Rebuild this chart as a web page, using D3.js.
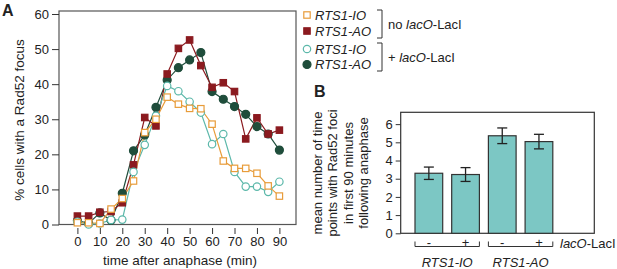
<!DOCTYPE html>
<html>
<head>
<meta charset="utf-8">
<script src="https://cdn.jsdelivr.net/npm/d3@7"></script>
<style>
  body { margin: 0; background: #fff; }
  svg { font-family: "Liberation Sans", Arial, sans-serif; }
  .axis text { font-size: 12px; fill: #222; }
  .axis line, .axis path { stroke: #333; }
</style>
</head>
<body>
<svg id="fig" width="617" height="269"></svg>
<script>
// ---- data (panel A) ----
let times = [0, 5, 10, 15, 20, 25, 30, 35, 40, 45, 50, 55, 60, 65, 70, 75, 80, 85, 90];
let io_noLac = [0.5, 0.5, 0.3, 4.4, 7.4, 12.4, 26.2, 30.0, 36.3, 34.3, 33.1, 33.0, 28.6, 18.1, 16.0, 16.0, 14.6, 11.0, 8.1];
let ao_noLac = [2.4, 2.4, 3.5, 3.7, 6.2, 17.0, 30.5, 28.1, 42.9, 50.2, 52.6, 45.3, 39.1, 40.4, 37.9, 24.4, 30.4, 25.8, 26.9];
let io_lac   = [0.8, 0.0, 0.3, 1.3, 1.4, 15.0, 22.7, 31.0, 39.5, 38.0, 35.0, 31.9, 22.9, 25.8, 15.0, 10.8, 10.8, 9.3, 12.2];
let ao_lac   = [1.1, 0.3, 3.3, 1.2, 8.9, 21.0, 25.5, 33.4, 41.2, 44.7, 46.9, 49.0, 37.9, 35.7, 33.6, 31.4, 27.9, 25.8, 21.2];
let yTicksA = [0, 10, 20, 30, 40, 50, 60];
let xTicksA = [0, 10, 20, 30, 40, 50, 60, 70, 80, 90];

// ---- data (panel B) ----
let barKeys = ["IO-", "IO+", "AO-", "AO+"];
let barSigns = ["-", "+", "-", "+"];
let barMeans = [3.30, 3.23, 5.36, 5.04];
let barErr = [0.34, 0.38, 0.43, 0.40];
let groups = ["RTS1-IO", "RTS1-AO"];
let yTicksB = [0, 1, 2, 3, 4, 5, 6];

let svg = d3.select("#fig");

// ================= Panel A =================
let x = d3.scaleLinear().domain([-8.2, 97.4]).range([59, 296]);
let y = d3.scaleLinear().domain([0, 60]).range([224.5, 14]);

// frame
svg.append("rect")
  .attr("x", 59).attr("y", 11)
  .attr("width", 296 - 59).attr("height", 224.5 - 11)
  .attr("fill", "none").attr("stroke", "#555").attr("stroke-width", 1.2);

let yAxisA = svg.append("g").attr("class", "axis")
  .attr("transform", "translate(59,0)")
  .call(d3.axisLeft(y).tickValues(yTicksA).tickSize(7).tickPadding(3));
yAxisA.select(".domain").remove();
yAxisA.selectAll("text").style("font-size", "13px");

let xAxisA = svg.append("g").attr("class", "axis")
  .attr("transform", "translate(0,228)")
  .call(d3.axisBottom(x).tickValues(xTicksA).tickSize(6).tickPadding(3));
xAxisA.select(".domain").remove();
xAxisA.selectAll("text").style("font-size", "13px");

svg.append("text")
  .text("time after anaphase (min)")
  .attr("x", 180).attr("y", 265)
  .attr("text-anchor", "middle")
  .style("font-size", "13.5px").attr("fill", "#222");

svg.append("text")
  .text("% cells with a Rad52 focus")
  .attr("transform", "translate(24,120) rotate(-90)")
  .attr("text-anchor", "middle")
  .style("font-size", "13.5px").attr("fill", "#222");

svg.append("text").text("A")
  .attr("x", 2).attr("y", 16)
  .style("font-size", "16px").style("font-weight", "bold").attr("fill", "#222");

let line = d3.line()
  .x(function (d, i) { return x(times[i]); })
  .y(function (d) { return y(d); });

let series = [
  { vals: ao_lac, color: "#1f4d3b", shape: "circle", fill: true },
  { vals: ao_noLac, color: "#8b1a1f", shape: "square", fill: true },
  { vals: io_lac, color: "#5cb8aa", shape: "circle", fill: false },
  { vals: io_noLac, color: "#e89c3a", shape: "square", fill: false }
];

series.forEach(function (s) {
  svg.append("path")
    .datum(s.vals)
    .attr("d", line)
    .attr("fill", "none")
    .attr("stroke", s.color)
    .attr("stroke-width", 1.2);
});

series.forEach(function (s) {
  let g = svg.append("g");
  if (s.shape === "circle") {
    g.selectAll("circle").data(s.vals).enter().append("circle")
      .attr("cx", function (d, i) { return x(times[i]); })
      .attr("cy", function (d) { return y(d); })
      .attr("r", s.fill ? 4 : 3.7)
      .attr("fill", s.fill ? s.color : "#fff")
      .attr("stroke", s.color).attr("stroke-width", 1.2);
  } else {
    g.selectAll("rect").data(s.vals).enter().append("rect")
      .attr("x", function (d, i) { return x(times[i]) - 3.2; })
      .attr("y", function (d) { return y(d) - 3.2; })
      .attr("width", 6.4).attr("height", 6.4)
      .attr("fill", s.fill ? s.color : "#fff")
      .attr("stroke", s.color).attr("stroke-width", 1.2);
  }
});

// legend
let legend = [
  { label: "RTS1-IO", y: 15, color: "#e89c3a", shape: "square", fill: false },
  { label: "RTS1-AO", y: 31, color: "#8b1a1f", shape: "square", fill: true },
  { label: "RTS1-IO", y: 49, color: "#5cb8aa", shape: "circle", fill: false },
  { label: "RTS1-AO", y: 64.5, color: "#1f4d3b", shape: "circle", fill: true }
];
legend.forEach(function (l) {
  if (l.shape === "circle") {
    svg.append("circle").attr("cx", 307).attr("cy", l.y).attr("r", l.fill ? 4 : 3.7)
      .attr("fill", l.fill ? l.color : "#fff").attr("stroke", l.color).attr("stroke-width", 1.2);
  } else {
    svg.append("rect").attr("x", 307 - 3.2).attr("y", l.y - 3.2).attr("width", 6.4).attr("height", 6.4)
      .attr("fill", l.fill ? l.color : "#fff").attr("stroke", l.color).attr("stroke-width", 1.2);
  }
  svg.append("text").text(l.label)
    .attr("x", 315).attr("y", l.y + 4.5)
    .style("font-size", "13px").style("font-style", "italic").attr("fill", "#222");
});

function bracketR(x0, y0, y1) {
  svg.append("path")
    .attr("d", "M" + (x0 - 5) + "," + y0 + "H" + x0 + "V" + y1 + "H" + (x0 - 5))
    .attr("fill", "none").attr("stroke", "#333").attr("stroke-width", 1);
}
bracketR(382, 10, 38);
bracketR(382, 43, 71);

let t1 = svg.append("text").attr("x", 388).attr("y", 28.5)
  .style("font-size", "13px").attr("fill", "#222");
t1.append("tspan").text("no ");
t1.append("tspan").text("lacO").style("font-style", "italic");
t1.append("tspan").text("-LacI");

let t2 = svg.append("text").attr("x", 388).attr("y", 61.5)
  .style("font-size", "13px").attr("fill", "#222");
t2.append("tspan").text("+ ");
t2.append("tspan").text("lacO").style("font-style", "italic");
t2.append("tspan").text("-LacI");

// ================= Panel B =================
svg.append("text").text("B")
  .attr("x", 314).attr("y", 97)
  .style("font-size", "16px").style("font-weight", "bold").attr("fill", "#222");

let xb = d3.scaleBand().domain(barKeys)
  .range([410.5, 557.3]).paddingInner(0.245).paddingOuter(0.1225);
let yb = d3.scaleLinear().domain([0, 6.65]).range([233.3, 112.3]);

svg.append("rect")
  .attr("x", 400.7).attr("y", 112.3)
  .attr("width", 594.3 - 400.7).attr("height", 233.3 - 112.3)
  .attr("fill", "none").attr("stroke", "#333").attr("stroke-width", 1.2);

let yAxisB = svg.append("g").attr("class", "axis")
  .attr("transform", "translate(400.7,0)")
  .call(d3.axisLeft(yb).tickValues(yTicksB).tickFormat(d3.format("d")).tickSize(5).tickPadding(3));
yAxisB.select(".domain").remove();
yAxisB.selectAll("text").style("font-size", "13px");

svg.selectAll(".bar").data(barMeans).enter().append("rect")
  .attr("class", "bar")
  .attr("x", function (d, i) { return xb(barKeys[i]); })
  .attr("y", function (d) { return yb(d); })
  .attr("width", xb.bandwidth())
  .attr("height", function (d) { return yb(0) - yb(d); })
  .attr("fill", "#7cc7c4")
  .attr("stroke", "#333").attr("stroke-width", 1.2);

// error bars
barMeans.forEach(function (m, i) {
  let cx = xb(barKeys[i]) + xb.bandwidth() / 2;
  let g = svg.append("g").attr("stroke", "#222").attr("stroke-width", 1.3);
  g.append("line").attr("x1", cx).attr("x2", cx)
    .attr("y1", yb(m + barErr[i])).attr("y2", yb(m - barErr[i]));
  g.append("line").attr("x1", cx - 5).attr("x2", cx + 5)
    .attr("y1", yb(m + barErr[i])).attr("y2", yb(m + barErr[i]));
  g.append("line").attr("x1", cx - 5).attr("x2", cx + 5)
    .attr("y1", yb(m - barErr[i])).attr("y2", yb(m - barErr[i]));
  svg.append("text").text(barSigns[i])
    .attr("x", cx).attr("y", 247)
    .attr("text-anchor", "middle")
    .style("font-size", "13px").attr("fill", "#222");
});

// group brackets
groups.forEach(function (gname, k) {
  let x0 = xb(barKeys[k * 2]);
  let x1 = xb(barKeys[k * 2 + 1]) + xb.bandwidth();
  svg.append("path")
    .attr("d", "M" + x0 + ",241.5V246.5H" + x1 + "V241.5")
    .attr("fill", "none").attr("stroke", "#333").attr("stroke-width", 1);
  svg.append("text").text(gname)
    .attr("x", (x0 + x1) / 2).attr("y", 267)
    .attr("text-anchor", "middle")
    .style("font-size", "13px").style("font-style", "italic").attr("fill", "#222");
});

let t3 = svg.append("text").attr("x", 560).attr("y", 247.5)
  .style("font-size", "13px").attr("fill", "#222");
t3.append("tspan").text("lacO").style("font-style", "italic");
t3.append("tspan").text("-LacI");

let ylabB = ["mean number of time", "points with Rad52 foci", "in first 90 minutes", "following anaphase"];
ylabB.forEach(function (s, i) {
  svg.append("text").text(s)
    .attr("transform", "translate(" + (322 + i * 15.3) + ",173) rotate(-90)")
    .attr("text-anchor", "middle")
    .style("font-size", "13px").attr("fill", "#222");
});
</script>
</body>
</html>
